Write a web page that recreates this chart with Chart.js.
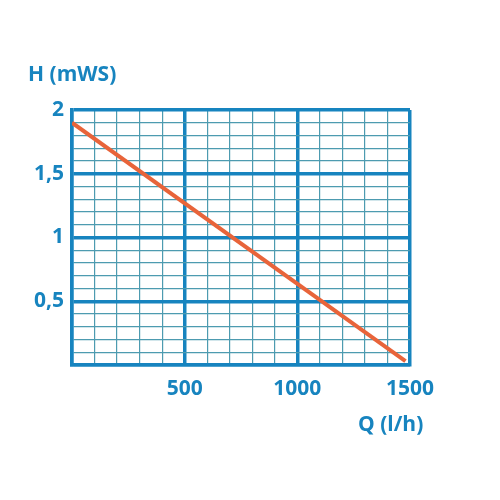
<!DOCTYPE html>
<html><head><script src="https://cdn.jsdelivr.net/npm/chart.js@4"></script>
<style>body{margin:0;background:#fff}</style></head>
<body><div style="width:500px;height:500px"><canvas id="c"></canvas></div>
<script>
const flowQ = [0, 1480];
const headH = [1.9, 0.03];
const xTitle = 'Q (l/h)';
const yTitle = 'H (mWS)';
const blue = '#1784bf', minor = '#4d9bb0';
const font = {family:'Open Sans', weight:'bold', size:21};
const titles = {id:'titles', afterDraw(c){const x=c.ctx;x.save();x.fillStyle=blue;x.font='bold 21px "Open Sans"';x.textBaseline='middle';
 x.textAlign='left';x.fillText(yTitle,28,75);x.fillText(xTitle,358,425);x.restore();}};
new Chart(document.getElementById('c'),{type:'line',
data:{datasets:[{data:flowQ.map((q,i)=>({x:q,y:headH[i]})),borderColor:'#e8643a',borderWidth:4,pointRadius:0}]},
options:{responsive:true,maintainAspectRatio:false,animation:false,
layout:{padding:{left:0,right:90,top:110,bottom:0}},
plugins:{legend:{display:false},tooltip:{enabled:false}},
scales:{
x:{type:'linear',min:0,max:1500,afterFit:s=>{s.height=135},
 ticks:{stepSize:100,autoSkip:false,maxRotation:0,color:blue,font,padding:11,callback:v=>(v%500===0&&v>0)?String(v):''},
 grid:{drawTicks:false,color:c=>c.tick&&c.tick.value%500===0?blue:minor,lineWidth:c=>c.tick&&c.tick.value%500===0?3.5:1.2},border:{color:blue,width:3.5}},
y:{min:0,max:2,afterFit:s=>{s.width=72},
 ticks:{stepSize:0.1,autoSkip:false,color:blue,font,padding:8,callback:v=>{const t=Math.round(v*10);return (t%5===0&&t>0)?String(t/10).replace('.',','):'';}},
 grid:{drawTicks:false,color:c=>c.tick&&Math.round(c.tick.value*10)%5===0?blue:minor,lineWidth:c=>c.tick&&Math.round(c.tick.value*10)%5===0?3.5:1.2},border:{color:blue,width:3.5}}
}},plugins:[titles]});
</script></body></html>
